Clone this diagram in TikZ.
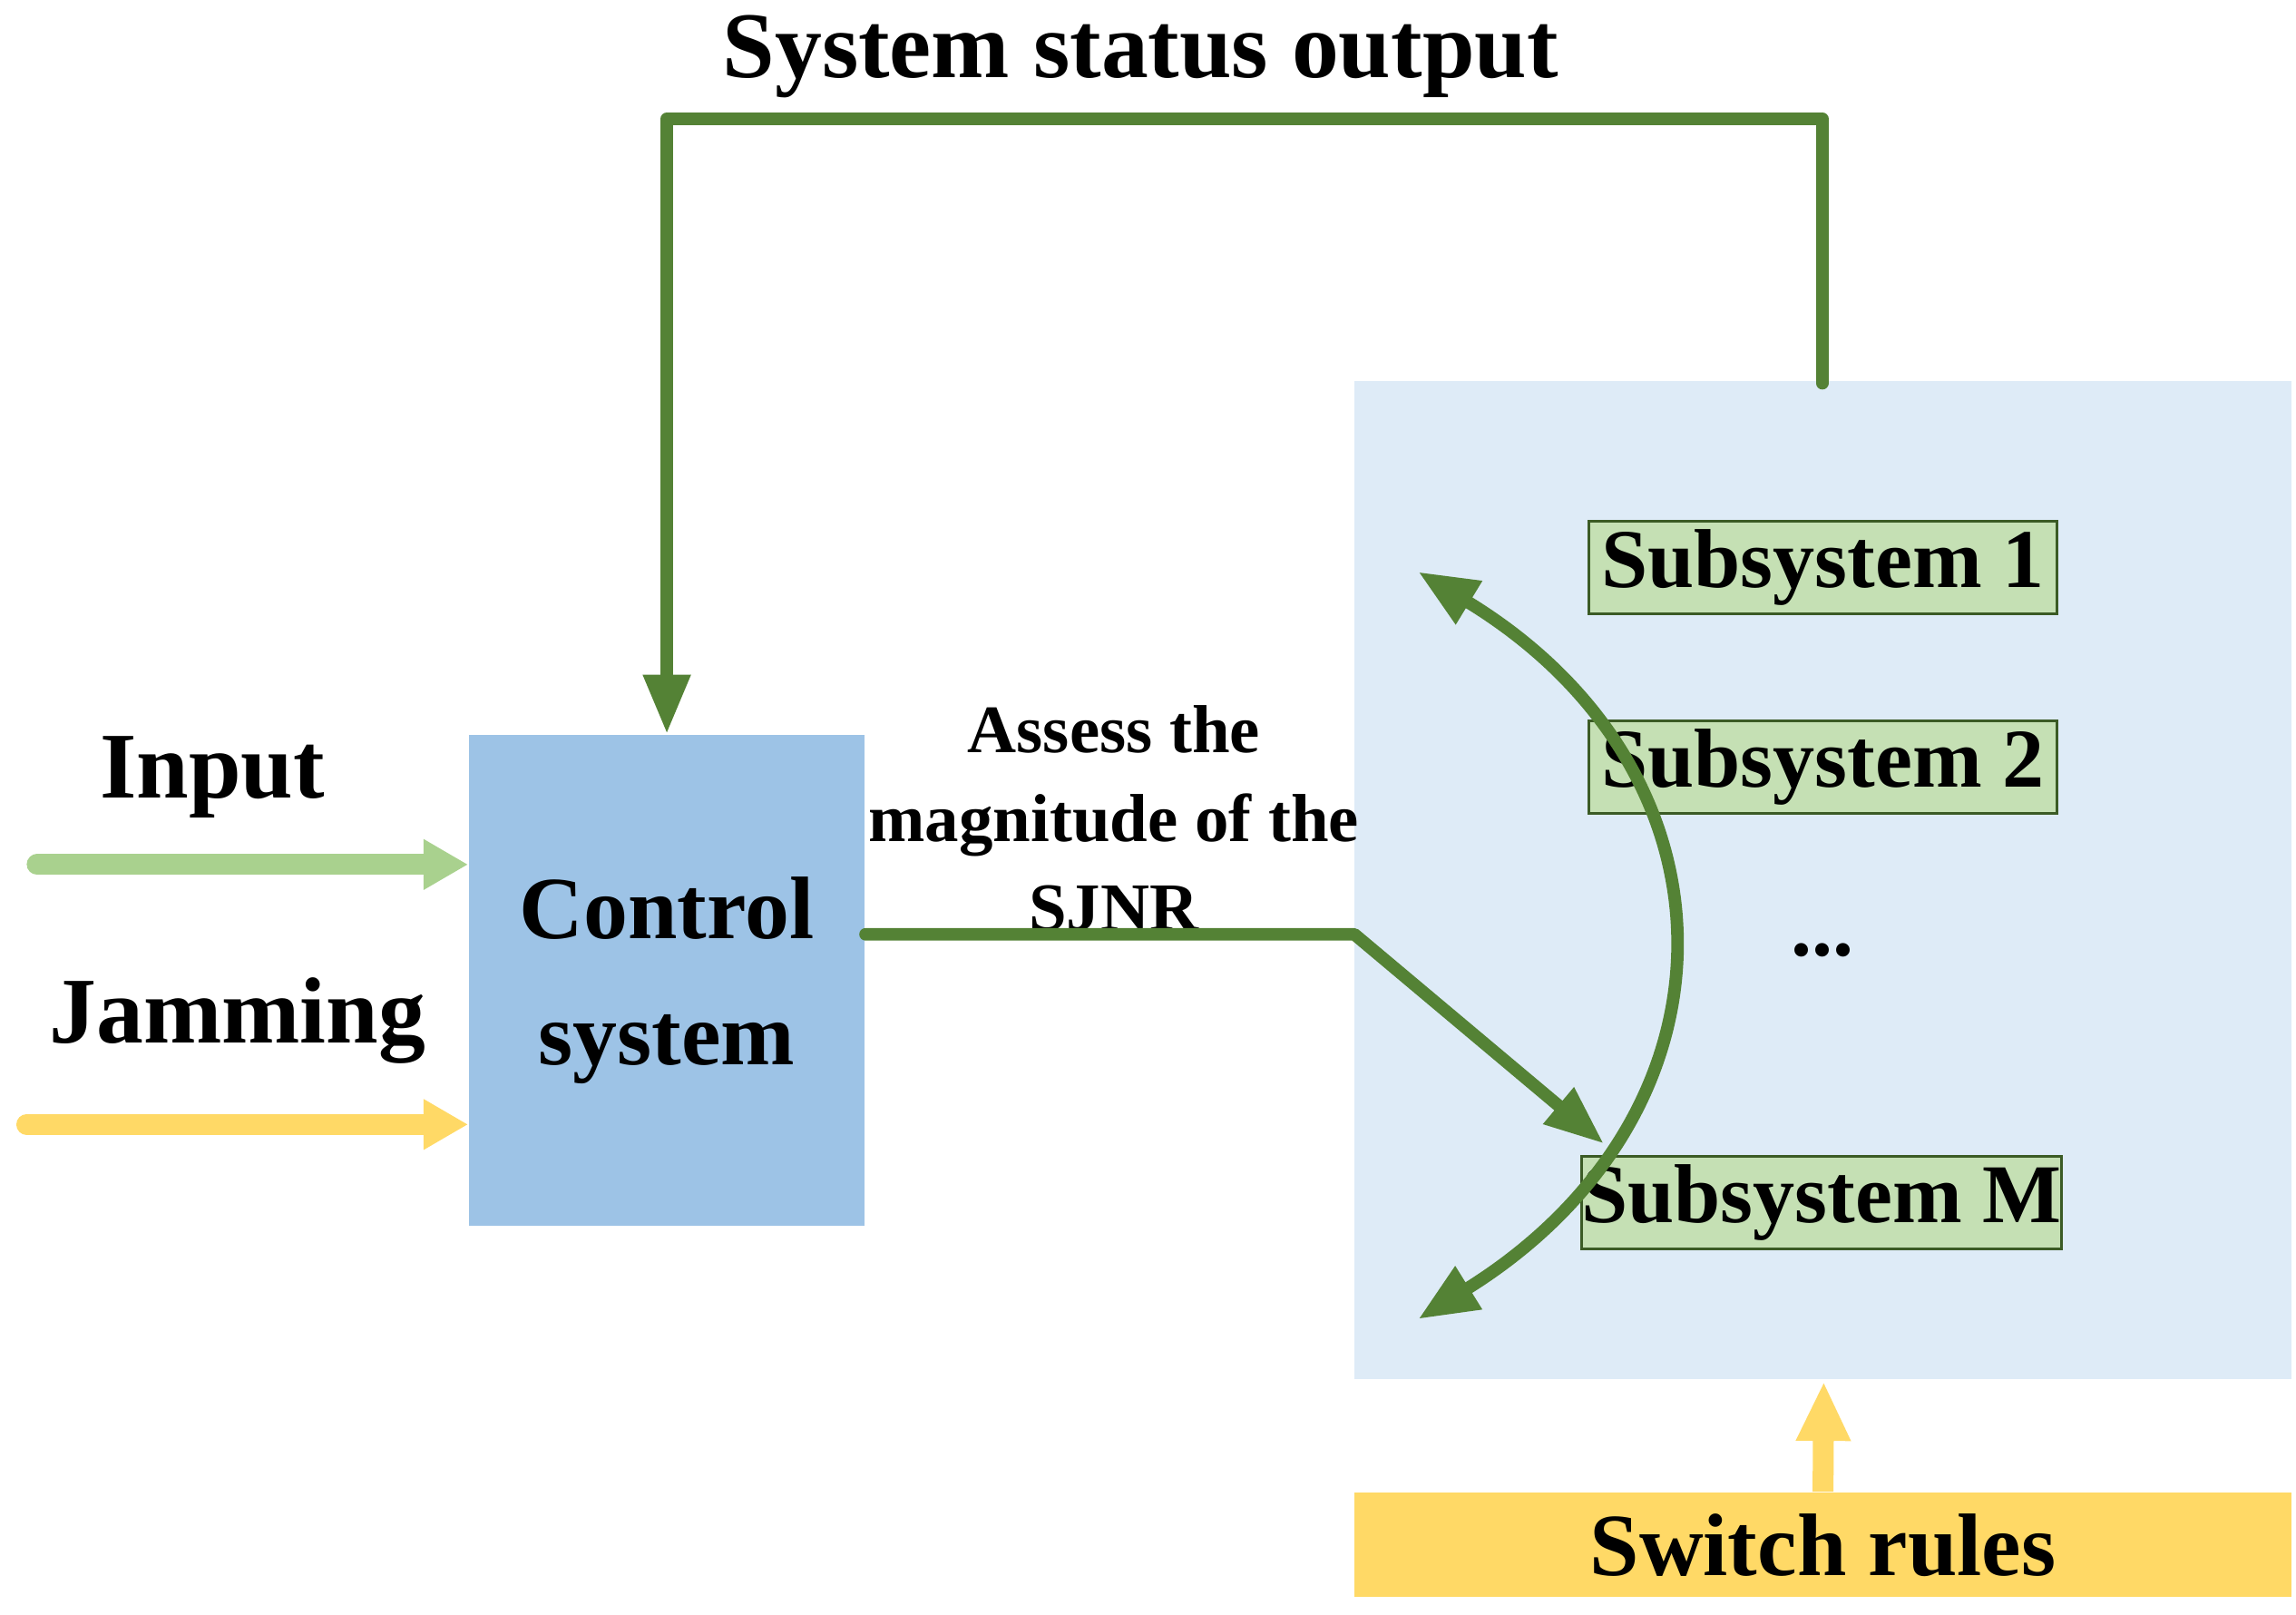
\documentclass[tikz,border=0pt]{standalone}
\usepackage{fontspec}
\setmainfont{Liberation Serif}
\usetikzlibrary{arrows.meta}
\definecolor{dg}{HTML}{548235}
\definecolor{lg}{HTML}{A9D18E}
\definecolor{yl}{HTML}{FFD966}
\definecolor{bl}{HTML}{9DC3E6}
\definecolor{pb}{HTML}{DEEBF7}
\definecolor{sg}{HTML}{C5E0B4}
\begin{document}
\begin{tikzpicture}[x=0.01cm,y=-0.01cm,
  lbl/.style={font=\bfseries\fontsize{18}{20}\selectfont},
  sub/.style={draw=dg!70!black,line width=0.5pt,fill=sg,minimum width=3.15cm,minimum height=0.62cm,inner sep=0pt,font=\bfseries\fontsize{16}{18}\selectfont},
  gline/.style={draw=dg,line width=2.4pt,line join=round,line cap=round},
  garr/.style={gline,-{Triangle[length=0.4cm,width=0.3cm]}}]
\useasboundingbox (0,0) rectangle (1546,1087);
\node[lbl] (title) at (768,38) {System status output};
\node[fill=pb,minimum width=6.31cm,minimum height=6.71cm,inner sep=0pt] (panel) at (1227.5,592.5) {};
\node[fill=bl,minimum width=2.66cm,minimum height=3.30cm,inner sep=0pt,align=center,font=\bfseries\fontsize{17}{24}\selectfont] (ctrl) at (449,660) {Control\\system};
\node[sub] (s1) at (1227.5,382) {Subsystem 1};
\node[sub] (s2) at (1227.5,516.5) {Subsystem 2};
\node[sub] (sm) at (1226.5,809.5) {Subsystem M};
\node[font=\bfseries\fontsize{16}{18}\selectfont] (dots) at (1227,640) {...};
\node[fill=yl,minimum width=6.31cm,minimum height=0.70cm,inner sep=0pt,font=\bfseries\fontsize{17}{20}\selectfont] (sw) at (1227.5,1040) {Switch rules};
\node[lbl] (in) at (143,523) {Input};
\node[lbl] (jam) at (160,687) {Jamming};
\node[align=center,font=\bfseries\fontsize{13}{17}\selectfont] (assess) at (750,551) {Assess the\\magnitude of the\\SJNR};
\coordinate (fb) at (1227,258);
\coordinate (in0) at (25,582);
\coordinate (jm0) at (18,757);
\coordinate (bend) at (912,629);
\coordinate (tgt) at (1080,770);
\coordinate (ct) at (955,385);
\coordinate (cb) at (955,888);
\draw[garr] (fb) -- (1227,80) -- (449,80) -- (ctrl.north);
\draw[lg,line width=4pt,line cap=round,-{Triangle[length=0.3cm,width=0.32cm]}] (in0) -- (ctrl.west |- in0);
\draw[yl,line width=4pt,line cap=round,-{Triangle[length=0.3cm,width=0.32cm]}] (jm0) -- (ctrl.west |- jm0);
\draw[garr] (ctrl.east |- bend) -- (bend) -- (tgt);
\draw[gline,{Triangle[length=0.4cm,width=0.32cm]}-{Triangle[length=0.4cm,width=0.32cm]}] (ct) .. controls (1177,520) and (1177,750) .. (cb);
\draw[yl,line width=4pt,-{Triangle[length=0.4cm,width=0.34cm]}] (sw.north) -- (1228,930);
\end{tikzpicture}
\end{document}
